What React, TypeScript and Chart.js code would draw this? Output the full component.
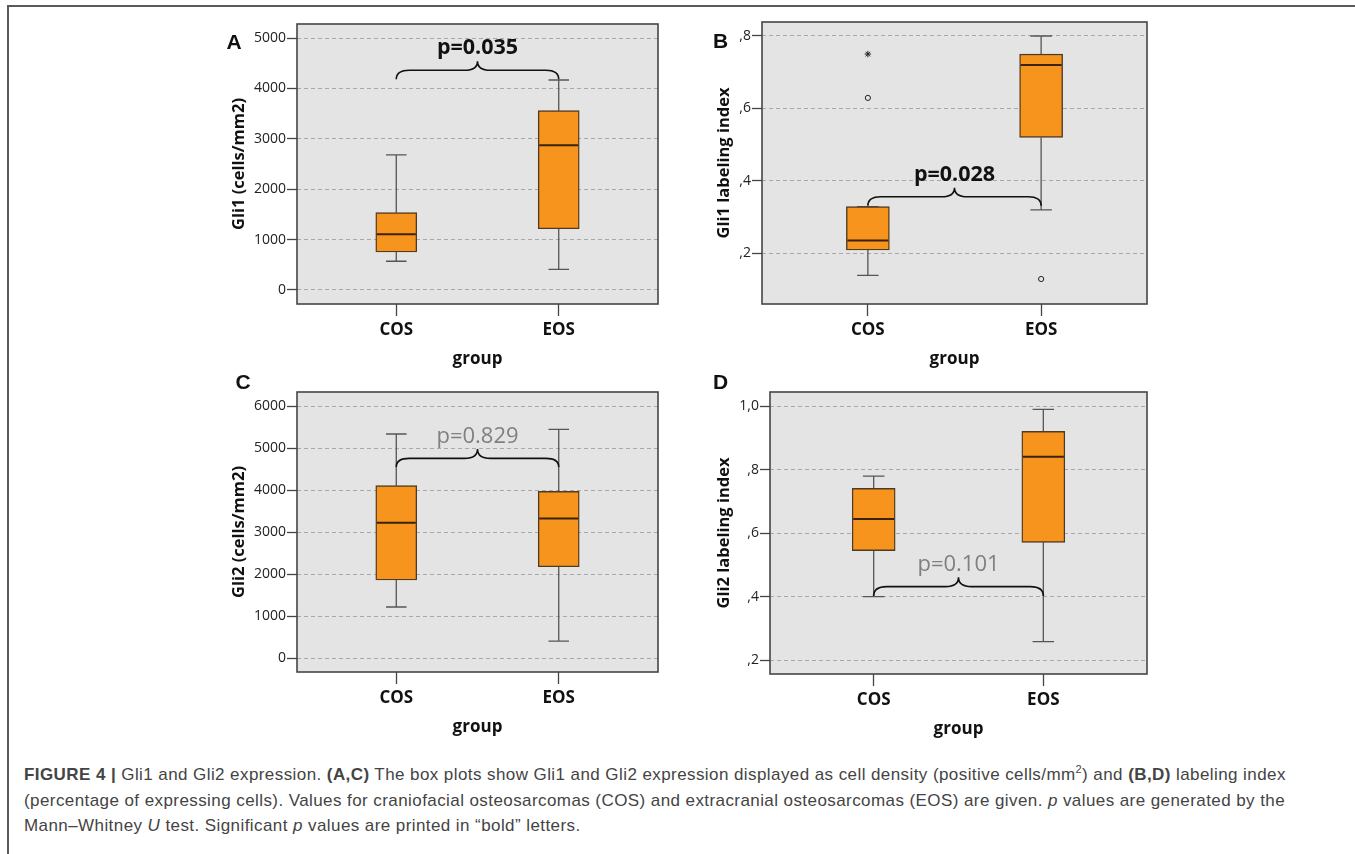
import React, { useEffect, useRef } from "react";
import { Chart, registerables } from "chart.js";

Chart.register(...registerables);

const groups = ["COS", "EOS"];

// Box statistics per group: [lower whisker, Q1, median, Q3, upper whisker]
const gli1DensityCOS = [570, 754, 1105, 1534, 2680];
const gli1DensityEOS = [410, 1216, 2870, 3558, 4167];
const gli1IndexCOS = [0.139, 0.209, 0.235, 0.329, 0.329];
const gli1IndexEOS = [0.32, 0.52, 0.72, 0.75, 0.8];
const gli2DensityCOS = [1224, 1867, 3231, 4112, 5343];
const gli2DensityEOS = [413, 2183, 3333, 3976, 5452];
const gli2IndexCOS = [0.4, 0.545, 0.645, 0.741, 0.78];
const gli2IndexEOS = [0.258, 0.571, 0.841, 0.921, 0.99];

// Outliers (circle) and extremes (star): [group index, value]
const gli1IndexOutliers = [
  [0, 0.629],
  [1, 0.129],
];
const gli1IndexExtremes = [[0, 0.75]];

// Tick values and labels
const densityTicksA = [0, 1000, 2000, 3000, 4000, 5000];
const densityLabelsA = ["0", "1000", "2000", "3000", "4000", "5000"];
const densityTicksC = [0, 1000, 2000, 3000, 4000, 5000, 6000];
const densityLabelsC = ["0", "1000", "2000", "3000", "4000", "5000", "6000"];
const indexTicksB = [0.2, 0.4, 0.6, 0.8];
const indexLabelsB = [",2", ",4", ",6", ",8"];
const indexTicksD = [0.2, 0.4, 0.6, 0.8, 1.0];
const indexLabelsD = [",2", ",4", ",6", ",8", "1,0"];

const pValues = ["p=0.035", "p=0.028", "p=0.829", "p=0.101"];

// ---- styles ----
const PLOT_BG = "#e4e4e4";
const ORANGE = "#f7941d";
const BOX_EDGE = "#4f3a22";
const MEDIAN = "#3a2308";
const WHISKER = "#555555";
const GRID = "#a9a9a9";
const FRAME = "#454545";
const FONT = "'Open Sans', 'DejaVu Sans', sans-serif";

type Rect = { left: number; top: number; width: number; height: number };
type Frame = { left: number; top: number; right: number; bottom: number };

type PanelCfg = {
  letter: string;
  letterPos: [number, number];
  canvas: Rect;
  frame: Frame;
  yTitle: string;
  yMin: number;
  yMax: number;
  ticks: number[];
  tickLabels: string[];
  boxes: number[][];
  outliers: number[][];
  extremes: number[][];
  boxWidth: number;
  brace: { end: number; flat: number; tip: number };
  pText: string;
  pY: number;
  pBold: boolean;
  yTitlePad: number;
  xTitlePad: number;
};

const X_MIN = -0.6111;
const X_MAX = 1.6111;

const panels: PanelCfg[] = [
  {
    letter: "A",
    letterPos: [234, 41],
    canvas: { left: 205, top: 8, width: 465, height: 367 },
    frame: { left: 297, top: 24, right: 658, bottom: 304 },
    yTitle: "Gli1 (cells/mm2)",
    yMin: -278,
    yMax: 5278,
    ticks: densityTicksA,
    tickLabels: densityLabelsA,
    boxes: [gli1DensityCOS, gli1DensityEOS],
    outliers: [],
    extremes: [],
    boxWidth: 41,
    brace: { end: 4180, flat: 4360, tip: 4540 },
    pText: pValues[0],
    pY: 4683,
    pBold: true,
    yTitlePad: 24,
    xTitlePad: 5.4,
  },
  {
    letter: "B",
    letterPos: [720.5, 40],
    canvas: { left: 690, top: 8, width: 470, height: 367 },
    frame: { left: 762, top: 22, right: 1147, bottom: 304 },
    yTitle: "Gli1 labeling index",
    yMin: 0.06,
    yMax: 0.8386,
    ticks: indexTicksB,
    tickLabels: indexLabelsB,
    boxes: [gli1IndexCOS, gli1IndexEOS],
    outliers: gli1IndexOutliers,
    extremes: gli1IndexExtremes,
    boxWidth: 43,
    brace: { end: 0.331, flat: 0.356, tip: 0.381 },
    pText: pValues[1],
    pY: 0.4,
    pBold: true,
    yTitlePad: 24.3,
    xTitlePad: 5.4,
  },
  {
    letter: "C",
    letterPos: [243, 381],
    canvas: { left: 205, top: 378, width: 465, height: 367 },
    frame: { left: 297, top: 392, right: 658, bottom: 672 },
    yTitle: "Gli2 (cells/mm2)",
    yMin: -324,
    yMax: 6343,
    ticks: densityTicksC,
    tickLabels: densityLabelsC,
    boxes: [gli2DensityCOS, gli2DensityEOS],
    outliers: [],
    extremes: [],
    boxWidth: 41,
    brace: { end: 4557, flat: 4762, tip: 4986 },
    pText: pValues[2],
    pY: 5129,
    pBold: false,
    yTitlePad: 24,
    xTitlePad: 7.4,
  },
  {
    letter: "D",
    letterPos: [720.5, 381],
    canvas: { left: 690, top: 378, width: 470, height: 367 },
    frame: { left: 770, top: 392, right: 1147, bottom: 674 },
    yTitle: "Gli2 labeling index",
    yMin: 0.156,
    yMax: 1.045,
    ticks: indexTicksD,
    tickLabels: indexLabelsD,
    boxes: [gli2IndexCOS, gli2IndexEOS],
    outliers: [],
    extremes: [],
    boxWidth: 43,
    brace: { end: 0.402, flat: 0.4316, tip: 0.461 },
    pText: pValues[3],
    pY: 0.482,
    pBold: false,
    yTitlePad: 24.3,
    xTitlePad: 5.4,
  },
];

function drawBrace(
  ctx: CanvasRenderingContext2D,
  x1: number,
  x2: number,
  yEnd: number,
  yFlat: number,
  yTip: number
) {
  const xc = (x1 + x2) / 2;
  const r = 13;
  ctx.beginPath();
  ctx.moveTo(x1, yEnd);
  ctx.quadraticCurveTo(x1, yFlat, x1 + r, yFlat);
  ctx.lineTo(xc - r, yFlat);
  ctx.quadraticCurveTo(xc, yFlat, xc, yTip);
  ctx.quadraticCurveTo(xc, yFlat, xc + r, yFlat);
  ctx.lineTo(x2 - r, yFlat);
  ctx.quadraticCurveTo(x2, yFlat, x2, yEnd);
  ctx.stroke();
}

function BoxPanel({ cfg }: { cfg: PanelCfg }) {
  const ref = useRef<HTMLCanvasElement>(null);

  useEffect(() => {
    const c = cfg;
    const padTop = c.frame.top - c.canvas.top;
    const padRight = c.canvas.left + c.canvas.width - c.frame.right;
    const yWidth = c.frame.left - c.canvas.left;
    const xHeight = c.canvas.top + c.canvas.height - c.frame.bottom;

    const decor = {
      id: "boxDecor",
      beforeDraw(chart: any) {
        const { ctx, chartArea: a } = chart;
        ctx.save();
        ctx.fillStyle = PLOT_BG;
        ctx.fillRect(a.left, a.top, a.right - a.left, a.bottom - a.top);
        ctx.restore();
      },
      beforeDatasetsDraw(chart: any) {
        const { ctx } = chart;
        const xs = chart.scales.x;
        const ys = chart.scales.y;
        const capHalf = c.boxWidth / 4;
        ctx.save();
        ctx.strokeStyle = WHISKER;
        ctx.lineWidth = 1.3;
        c.boxes.forEach((b, i) => {
          const x = xs.getPixelForValue(i);
          const yLow = ys.getPixelForValue(b[0]);
          const yQ1 = ys.getPixelForValue(b[1]);
          const yQ3 = ys.getPixelForValue(b[3]);
          const yHigh = ys.getPixelForValue(b[4]);
          ctx.beginPath();
          ctx.moveTo(x, yLow);
          ctx.lineTo(x, yQ1);
          ctx.moveTo(x, yQ3);
          ctx.lineTo(x, yHigh);
          ctx.moveTo(x - capHalf, yLow);
          ctx.lineTo(x + capHalf, yLow);
          ctx.moveTo(x - capHalf, yHigh);
          ctx.lineTo(x + capHalf, yHigh);
          ctx.stroke();
        });
        ctx.restore();
      },
      afterDatasetsDraw(chart: any) {
        const { ctx } = chart;
        const xs = chart.scales.x;
        const ys = chart.scales.y;
        ctx.save();
        ctx.strokeStyle = MEDIAN;
        ctx.lineWidth = 2;
        c.boxes.forEach((b, i) => {
          const x = xs.getPixelForValue(i);
          const y = ys.getPixelForValue(b[2]);
          ctx.beginPath();
          ctx.moveTo(x - c.boxWidth / 2 + 1, y);
          ctx.lineTo(x + c.boxWidth / 2 - 1, y);
          ctx.stroke();
        });
        // brace
        ctx.strokeStyle = "#111111";
        ctx.lineWidth = 1.6;
        const x1 = xs.getPixelForValue(0);
        const x2 = xs.getPixelForValue(1);
        drawBrace(
          ctx,
          x1,
          x2,
          ys.getPixelForValue(c.brace.end),
          ys.getPixelForValue(c.brace.flat),
          ys.getPixelForValue(c.brace.tip)
        );
        // p-value
        ctx.fillStyle = c.pBold ? "#111111" : "#808080";
        ctx.font = c.pBold ? `bold 21.5px ${FONT}` : `22px ${FONT}`;
        ctx.textAlign = "center";
        ctx.textBaseline = "alphabetic";
        ctx.fillText(c.pText, (x1 + x2) / 2, ys.getPixelForValue(c.pY));
        ctx.restore();
      },
      afterDraw(chart: any) {
        const { ctx, chartArea: a } = chart;
        ctx.save();
        ctx.strokeStyle = FRAME;
        ctx.lineWidth = 1.6;
        ctx.strokeRect(a.left, a.top, a.right - a.left, a.bottom - a.top);
        ctx.restore();
      },
    };

    const chart = new Chart(ref.current as HTMLCanvasElement, {
      type: "bar",
      data: {
        datasets: [
          {
            type: "bar",
            data: c.boxes.map((b, i) => ({ x: i, y: [b[1], b[3]] })),
            backgroundColor: ORANGE,
            borderColor: BOX_EDGE,
            borderWidth: 1.4,
            borderSkipped: false,
            barThickness: c.boxWidth,
          } as any,
          {
            type: "scatter",
            data: c.outliers.map((o) => ({ x: o[0], y: o[1] })),
            pointStyle: "circle",
            radius: 2.6,
            borderColor: "#222222",
            backgroundColor: "rgba(0,0,0,0)",
            borderWidth: 1,
          } as any,
          {
            type: "scatter",
            data: c.extremes.map((o) => ({ x: o[0], y: o[1] })),
            pointStyle: "star",
            radius: 3.2,
            borderColor: "#222222",
            backgroundColor: "#222222",
            borderWidth: 1,
          } as any,
        ],
      },
      options: {
        animation: false,
        responsive: false,
        maintainAspectRatio: false,
        events: [],
        layout: { padding: { top: padTop, right: padRight, left: 0, bottom: 0 } },
        plugins: { legend: { display: false }, tooltip: { enabled: false } },
        scales: {
          x: {
            type: "linear",
            min: X_MIN,
            max: X_MAX,
            offset: false,
            afterBuildTicks: (s: any) => {
              s.ticks = groups.map((_, i) => ({ value: i }));
            },
            afterFit: (s: any) => {
              s.height = xHeight;
            },
            ticks: {
              callback: (v: any) => groups[Math.round(v)] ?? "",
              font: { family: FONT, size: 17, weight: "bold" },
              color: "#111111",
              padding: 3.5,
              maxRotation: 0,
              autoSkip: false,
            },
            grid: {
              offset: false,
              drawOnChartArea: false,
              drawTicks: true,
              tickLength: 12,
              tickColor: "#444444",
              tickWidth: 1.3,
            },
            border: { display: false },
            title: {
              display: true,
              text: "group",
              font: { family: FONT, size: 17, weight: "bold" },
              color: "#111111",
              padding: { top: 0, bottom: c.xTitlePad },
            },
          } as any,
          y: {
            type: "linear",
            min: c.yMin,
            max: c.yMax,
            beginAtZero: false,
            afterBuildTicks: (s: any) => {
              s.ticks = c.ticks.map((v) => ({ value: v }));
            },
            afterFit: (s: any) => {
              s.width = yWidth;
            },
            ticks: {
              callback: (v: any) => {
                const idx = c.ticks.findIndex((t) => Math.abs(t - v) < 1e-9);
                return idx >= 0 ? c.tickLabels[idx] : "";
              },
              font: { family: FONT, size: 14 },
              color: "#222222",
              padding: 1,
            },
            grid: {
              color: GRID,
              lineWidth: 1,
              drawTicks: true,
              tickLength: 10,
              tickColor: "#444444",
              tickWidth: 1.3,
              tickBorderDash: [],
            },
            border: { display: false, dash: [4, 3] },
            title: {
              display: true,
              text: c.yTitle,
              font: { family: FONT, size: 16.5, weight: "bold" },
              color: "#111111",
              padding: { top: c.yTitlePad, bottom: 0 },
            },
          } as any,
        },
      } as any,
      plugins: [decor],
    });
    return () => chart.destroy();
  }, [cfg]);

  return (
    <canvas
      ref={ref}
      width={cfg.canvas.width}
      height={cfg.canvas.height}
      style={{
        position: "absolute",
        left: cfg.canvas.left,
        top: cfg.canvas.top,
        width: cfg.canvas.width,
        height: cfg.canvas.height,
      }}
    />
  );
}

export default function App() {
  return (
    <div
      style={{
        position: "absolute",
        left: 0,
        top: 0,
        width: 1355,
        height: 854,
        overflow: "hidden",
        background: "#ffffff",
      }}
    >
      <div
        style={{
          position: "absolute",
          left: 7,
          top: 5,
          width: 1500,
          height: 1000,
          borderLeft: "2px solid #5a5a5a",
          borderTop: "2px solid #5a5a5a",
        }}
      />
      {panels.map((p) => (
        <BoxPanel key={p.letter} cfg={p} />
      ))}
      {panels.map((p) => (
        <div
          key={"L" + p.letter}
          style={{
            position: "absolute",
            left: p.letterPos[0],
            top: p.letterPos[1],
            transform: "translate(-50%, -50%)",
            fontFamily: "'Liberation Sans', Arial, sans-serif",
            fontWeight: "bold",
            fontSize: 21,
            color: "#111111",
            lineHeight: 1,
          }}
        >
          {p.letter}
        </div>
      ))}
      <div
        style={{
          position: "absolute",
          left: 24,
          top: 762,
          fontFamily: "'Liberation Sans', Arial, sans-serif",
          fontSize: 17,
          letterSpacing: "0.42px",
          lineHeight: "25.5px",
          color: "#444444",
          whiteSpace: "nowrap",
        }}
      >
        <b>FIGURE 4 |</b> Gli1 and Gli2 expression. <b>(A,C)</b> The box plots show Gli1 and Gli2
        expression displayed as cell density (positive cells/mm
        <span style={{ fontSize: 11, position: "relative", top: -7, lineHeight: 0 }}>2</span>) and{" "}
        <b>(B,D)</b> labeling index
        <br />
        (percentage of expressing cells). Values for craniofacial osteosarcomas (COS) and
        extracranial osteosarcomas (EOS) are given. <i>p</i> values are generated by the
        <br />
        Mann–Whitney <i>U</i> test. Significant <i>p</i> values are printed in “bold” letters.
      </div>
    </div>
  );
}
